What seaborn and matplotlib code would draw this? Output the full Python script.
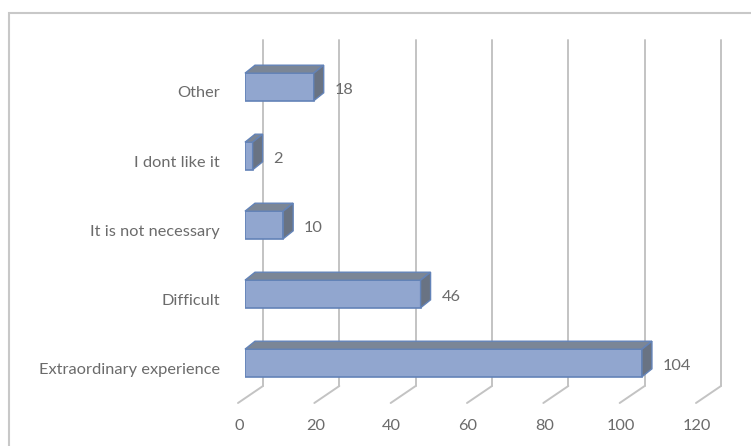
import matplotlib
matplotlib.use('Agg')
import matplotlib.pyplot as plt
import matplotlib.transforms as mtransforms
from matplotlib.patches import Polygon, Rectangle
import seaborn as sns
import pandas as pd

categories = ['Other', 'I dont like it', 'It is not necessary', 'Difficult', 'Extraordinary experience']
counts = [18, 2, 10, 46, 104]
x_ticks = [0, 20, 40, 60, 80, 100, 120]

df = pd.DataFrame({'reason': categories, 'count': counts})

sns.set_style('white')
plt.rcParams['font.family'] = ['Lato', 'DejaVu Sans']

DPI = 100
fig = plt.figure(figsize=(7.51, 4.46), dpi=DPI)
# axes placed so bar fronts start at 245 px and 120 units end at 703 px
ax = fig.add_axes([245 / 751, (446 - 386) / 446, 458 / 751, 346 / 446])

front_col = '#91a6cf'
edge_col = '#6383b8'
top_col = '#7b8696'
side_col = '#697383'
grid_col = '#c3c3c3'
text_col = '#6b6b6b'
fsize = 11.8

sns.barplot(data=df, x='count', y='reason', orient='h', color=front_col,
            width=0.4, saturation=1, edgecolor=edge_col, linewidth=1.2, ax=ax, zorder=3)
ax.set_xlim(0, 120)
ax.set_ylim(4.333, -0.681)


def px(dx, dy):
    return mtransforms.ScaledTranslation(dx / DPI, dy / DPI, fig.dpi_scale_trans)


# back-wall gridlines, shifted right of the bar fronts, with floor diagonals
xt = ax.get_xaxis_transform()
for t in x_ticks:
    ax.plot([t, t], [0, 1], transform=xt + px(18, 0), color=grid_col, lw=1.4,
            zorder=1, clip_on=False)
    ax.annotate('', xy=(t, 0), xycoords=xt + px(18, 0), xytext=(-25, -17),
                textcoords='offset pixels',
                arrowprops=dict(arrowstyle='-', color=grid_col, lw=1.4,
                                shrinkA=0, shrinkB=0), zorder=1)

# 3D top and side faces for each bar
d = (10, 8)
inv = fig.transFigure.inverted()
for bar in ax.patches:
    x0, y0 = bar.get_x(), bar.get_y()
    w, h = bar.get_width(), bar.get_height()
    p1 = ax.transData.transform((x0, y0))
    p2 = ax.transData.transform((x0 + w, y0))
    p3 = ax.transData.transform((x0 + w, y0 + h))
    top = [p1, p2, (p2[0] + d[0], p2[1] + d[1]), (p1[0] + d[0], p1[1] + d[1])]
    side = [p2, p3, (p3[0] + d[0], p3[1] + d[1]), (p2[0] + d[0], p2[1] + d[1])]
    fig.add_artist(Polygon(inv.transform(top), closed=True, transform=fig.transFigure,
                           facecolor=top_col, edgecolor=edge_col, lw=1.0, zorder=4))
    fig.add_artist(Polygon(inv.transform(side), closed=True, transform=fig.transFigure,
                           facecolor=side_col, edgecolor=edge_col, lw=1.0, zorder=4))

texts = ax.bar_label(ax.containers[0], labels=[str(c) for c in counts], padding=15,
                     color=text_col, fontsize=fsize)
for tx in texts:
    tx.xyann = (tx.xyann[0], tx.xyann[1] - 2.5)

sns.despine(ax=ax, left=True, bottom=True)
ax.set_xlabel('')
ax.set_ylabel('')
ax.set_xticks(x_ticks)
ax.set_xticklabels([str(t) for t in x_ticks])
ax.tick_params(axis='x', length=0, pad=24, labelsize=fsize, labelcolor=text_col)
ax.tick_params(axis='y', length=0, pad=18, labelsize=fsize, labelcolor=text_col)
for lbl in ax.get_xticklabels():
    lbl.set_transform(lbl.get_transform() + px(-6, 0))
for lbl in ax.get_yticklabels():
    lbl.set_transform(lbl.get_transform() + px(0, -5))

# outer chart border
fig.add_artist(Rectangle((9 / 751, -0.01), 1.0, (446 - 13) / 446 + 0.01,
                         transform=fig.transFigure, fill=False,
                         edgecolor='#c8c8c8', lw=1.5))

fig.savefig('out.png', dpi=DPI)
